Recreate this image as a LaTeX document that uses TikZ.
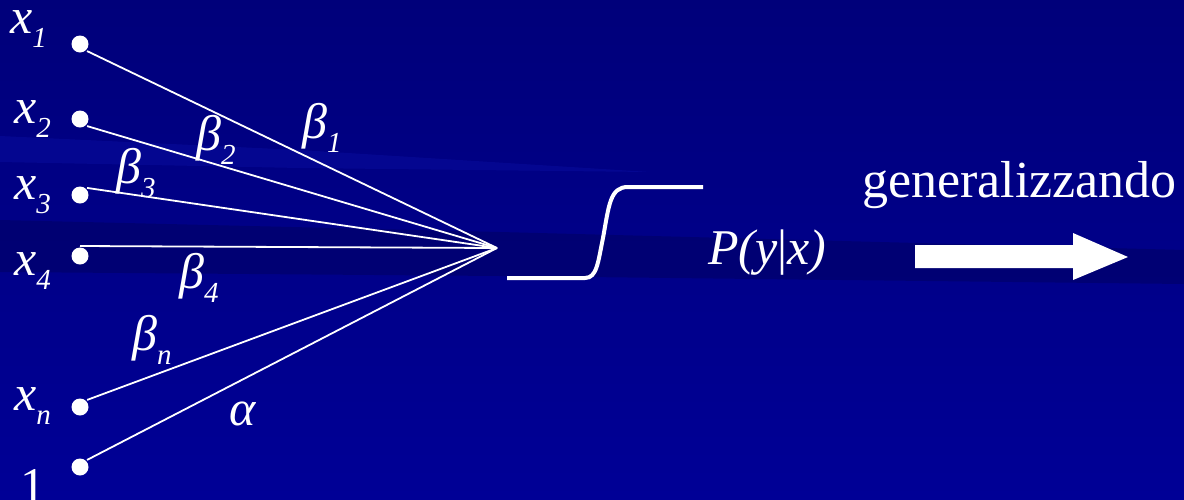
\documentclass[tikz,border=0pt]{standalone}
\usepackage{fontspec}
\setmainfont{Liberation Serif}
\definecolor{bgtop}{RGB}{0,0,122}
\definecolor{bgbot}{RGB}{0,0,150}
\definecolor{bglight}{RGB}{12,16,165}
\definecolor{bgdark}{RGB}{0,0,95}
\newcommand{\sbs}[1]{\raisebox{-14pt}{\fontsize{29}{32}\selectfont #1}}
\begin{document}
\begin{tikzpicture}[x=1pt,y=-1pt,
  dot/.style={circle, fill=white, inner sep=0pt, minimum size=17pt, outer sep=1.5pt},
  wline/.style={white, line width=1.8pt},
  lab/.style={anchor=base west, inner sep=0pt, text=white, font=\fontsize{50}{54}\selectfont\itshape},
  sig/.style={white, line width=4pt},
  bigarrow/.style={fill=white}]
\useasboundingbox (0,0) rectangle (1184,499);
% background
\shade[top color=bgtop, bottom color=bgbot] (0,0) rectangle (1184,499);
\fill[bglight, opacity=0.4] (0,136) -- (300,150) -- (650,172) -- (300,168) -- (0,162) -- cycle;
\fill[bgdark, opacity=0.5] (0,220) -- (500,232) -- (1184,250) -- (1184,284) -- (500,276) -- (0,272) -- cycle;
% input dots
\node[dot] (d1) at (80,44) {};
\node[dot] (d2) at (80,119) {};
\node[dot] (d3) at (80,195) {};
\node[dot] (d4) at (80,256) {};
\node[dot] (dn) at (80,407) {};
\node[dot] (d0) at (80,467) {};
\coordinate (c) at (497,248);
% connectors
\draw[wline] (d1.-45) -- (c);
\draw[wline] (d2.-45) -- (c);
\draw[wline] (d3.45) -- (c);
\draw[wline] (d4.north) -- (c);
\draw[wline] (dn.45) -- (c);
\draw[wline] (d0.45) -- (c);
% input labels
\node[lab] (lx1) at (10,33) {x\sbs{1}};
\node[lab] (lx2) at (14,123) {x\sbs{2}};
\node[lab] (lx3) at (14,199) {x\sbs{3}};
\node[lab] (lx4) at (14,275) {x\sbs{4}};
\node[lab] (lxn) at (14,410) {x\sbs{n}};
\node[lab, font=\fontsize{50}{54}\selectfont] (l1) at (20,502) {1};
% weights
\node[lab] (b1) at (302,138) {β\sbs{1}};
\node[lab] (b2) at (196,150) {β\sbs{2}};
\node[lab] (b3) at (116,183) {β\sbs{3}};
\node[lab] (b4) at (179,288) {β\sbs{4}};
\node[lab] (bn) at (132,350) {β\sbs{n}};
\node[lab] (al) at (229,425) {α};
% sigmoid
\draw[sig] (507,278) -- (585,278) .. controls (597,278) and (598,262) .. (603,238)
  .. controls (609,205) and (610,187) .. (628,187) -- (703,187);
\node[lab] (p) at (708,264) {P(y{\upshape|}x)};
% generalizzando
\node[lab, font=\fontsize{52}{56}\selectfont] (gen) at (862,197) {generalizzando};
\fill[bigarrow] (915,245) -- (1073,245) -- (1073,233) -- (1128,257) -- (1073,280) -- (1073,268) -- (915,268) -- cycle;
\end{tikzpicture}
\end{document}
